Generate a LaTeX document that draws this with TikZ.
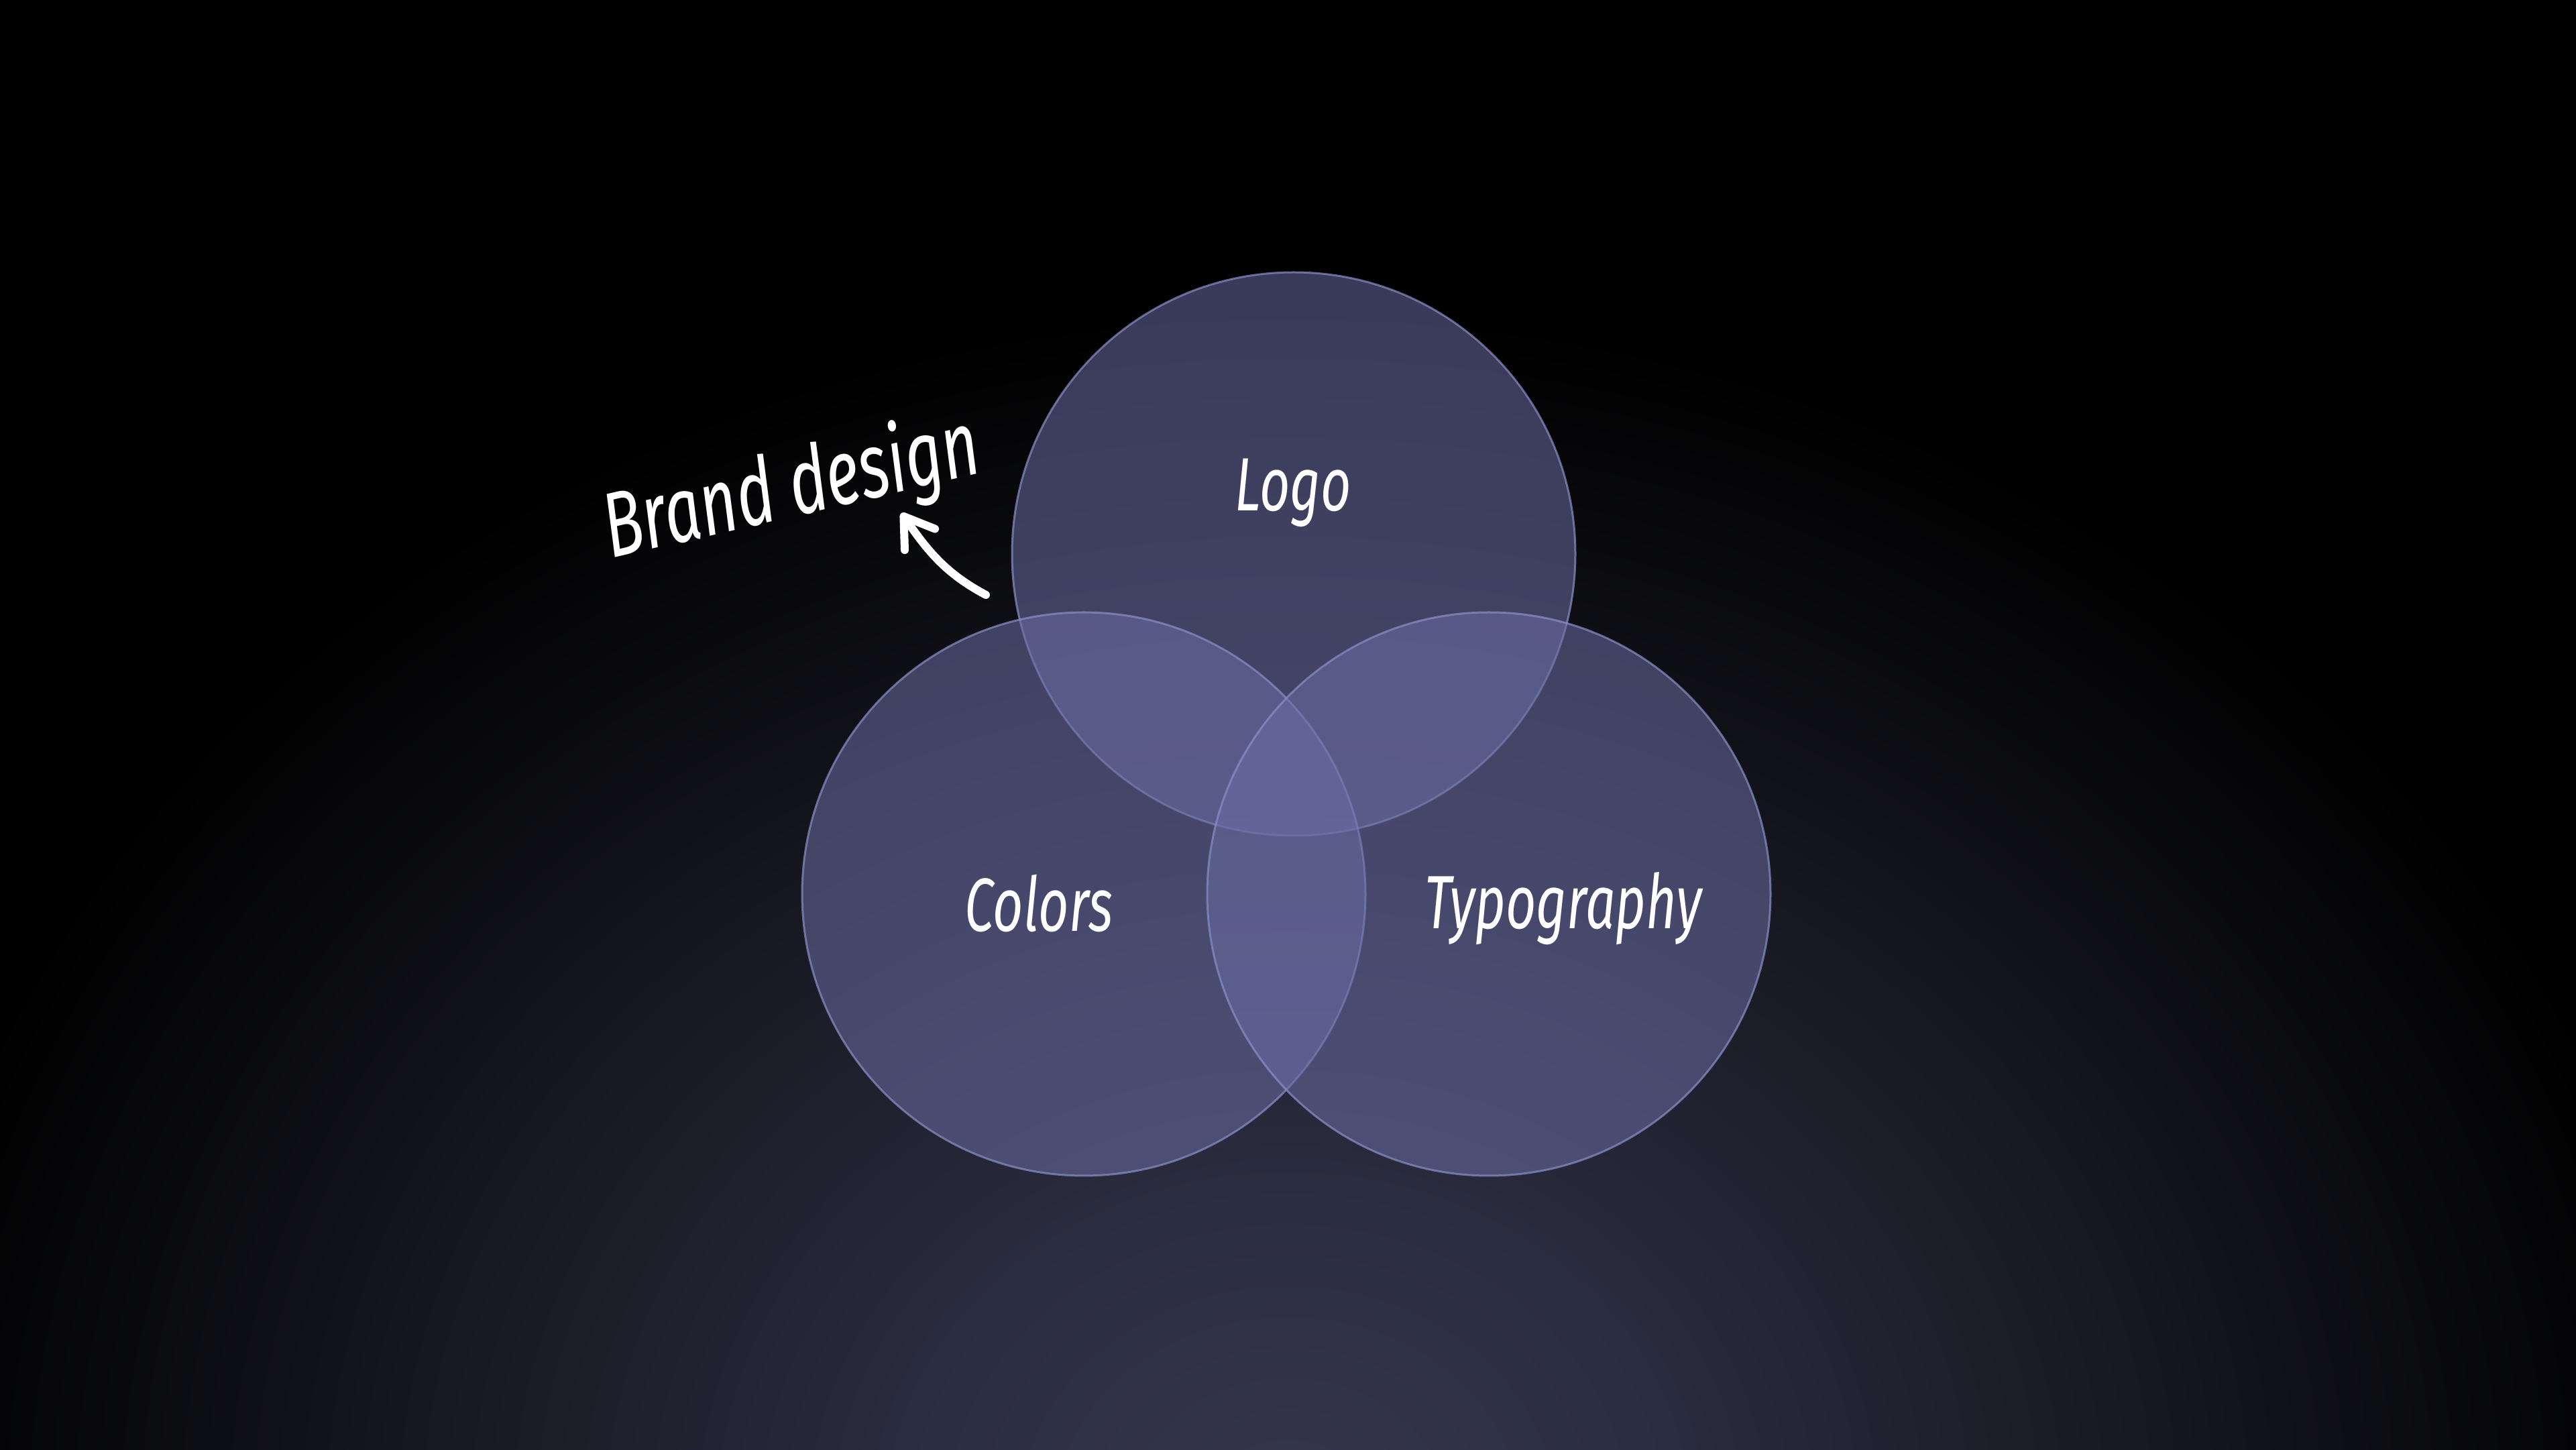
\documentclass[tikz,border=0pt]{standalone}
\usepackage{fontspec}
\usetikzlibrary{arrows.meta}
\newfontfamily\handfont{Fira Sans}[FakeStretch=0.7]

\definecolor{vennfill}{HTML}{6B6DA4}
\definecolor{vennline}{HTML}{8A90C8}
\definecolor{glowA}{HTML}{36374E}
\definecolor{glowB}{HTML}{2A2C3F}
\definecolor{glowC}{HTML}{15161E}
\pgfdeclareradialshading{bgglow}{\pgfpoint{0bp}{0bp}}{color(0bp)=(glowA); color(7bp)=(glowB); color(16bp)=(glowC); color(25bp)=(black); color(50bp)=(black)}

\begin{document}
\begin{tikzpicture}[
		venn/.style={circle, minimum size=8.4cm, inner sep=0pt, fill=vennfill, fill opacity=0.55, draw=vennline, draw opacity=0.7, line width=0.03cm},
		hand/.style={text=white, font=\handfont\itshape\fontsize{32}{36}\selectfont}
	]
		\useasboundingbox (0,0) rectangle (38.41,21.61);

		% Background
		\begin{scope}
			\clip (0,0) rectangle (38.41,21.61);
			\fill[black] (0,0) rectangle (38.41,21.61);
			\shade[shading=bgglow] (19.2,-1) ellipse (21 and 18);
		\end{scope}

		% Circles
		\node[venn] (logo) at (19.29,13.35) {};
		\node[venn] (colors) at (16.16,8.28) {};
		\node[venn] (typo) at (22.20,8.28) {};

		% Labels
		\node[hand] (logolabel) at (19.28,14.26) {Logo};
		\node[hand] (colorslabel) at (15.49,8.14) {Colors};
		\node[hand] (typolabel) at (23.31,8.06) {Typography};

		% Annotation
		\node[hand, font=\handfont\itshape\fontsize{39}{42}\selectfont, rotate=13] (brand) at (11.81,14.3) {Brand design};
		\coordinate (arrowtail) at (14.70,12.74);
		\coordinate (arrowtip) at (13.44,13.96);
		\draw[white, line width=0.12cm, line cap=round, -{Straight Barb[length=0.42cm, width=0.55cm, round]}] (arrowtail) to[out=152, in=-55] (arrowtip);
	\end{tikzpicture}
\end{document}
